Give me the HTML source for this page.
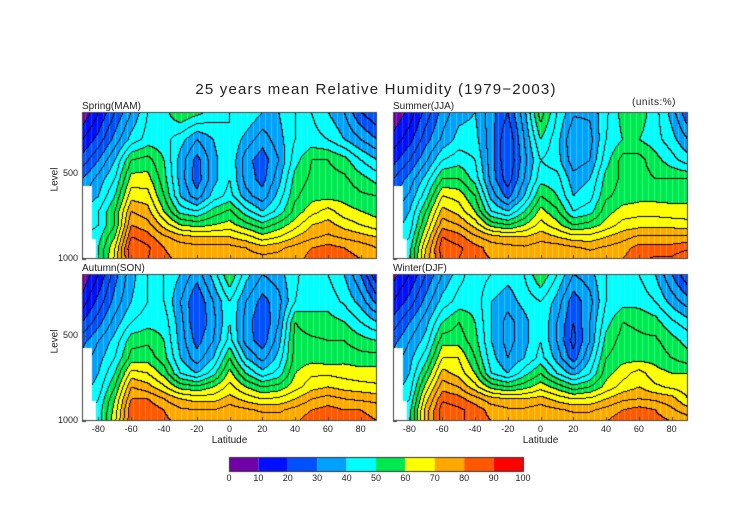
<!DOCTYPE html>
<html><head><meta charset="utf-8">
<style>
body{margin:0;background:#fff;width:752px;height:532px;overflow:hidden;position:relative;font-family:"Liberation Sans",sans-serif;}
.t{position:absolute;white-space:nowrap;color:#222;}
canvas{position:absolute;}
</style></head><body>
<div class="t" style="left:0;width:752px;text-align:center;top:81px;font-size:15px;letter-spacing:1.2px;">25 years mean Relative Humidity (1979−2003)</div>
<div class="t" style="left:632px;top:97px;font-size:10px;letter-spacing:0.5px;">(units:%)</div>
<div class="t" style="left:82px;top:101px;font-size:10px;">Spring(MAM)</div>
<div class="t" style="left:393px;top:101px;font-size:10px;">Summer(JJA)</div>
<div class="t" style="left:82px;top:263px;font-size:10px;">Autumn(SON)</div>
<div class="t" style="left:393px;top:263px;font-size:10px;">Winter(DJF)</div>
<canvas id="cv" width="752" height="532" style="left:0;top:0"></canvas>
<script>
const lats=[-90,-80,-70,-60,-50,-40,-30,-20,-10,0,10,20,30,40,50,60,70,80,90];
const levels=[140,300,420,530,630,720,800,870,935,1000];
const spring=[
[5,15,25,35,45,48,55,52,48,45,45,40,40,45,45,40,35,25,20],
[15,22,32,42,47,47,42,35,40,45,38,32,38,45,47,45,40,35,30],
[22,30,40,55,57,50,38,28,38,45,32,27,35,48,55,55,52,45,40],
[30,37,45,62,62,52,38,27,38,45,33,28,38,52,56,57,56,52,48],
[35,40,50,68,67,55,40,32,42,47,37,32,42,54,58,58,58,56,55],
[40,45,55,75,72,60,48,45,52,56,47,40,47,57,63,67,62,60,58],
[42,45,55,80,77,68,60,58,60,62,57,52,57,63,70,72,68,65,62],
[45,48,60,85,82,76,72,70,70,70,67,62,65,70,74,76,74,72,70],
[45,50,65,90,86,80,78,77,77,77,75,72,74,77,80,82,80,78,75],
[45,50,66,88,85,81,79,78,78,79,78,77,77,78,82,84,82,80,80]];
const summer=[
[5,12,22,32,38,40,32,25,38,58,45,36,36,44,52,53,47,38,25],
[12,18,28,36,42,42,32,20,35,50,42,30,33,45,50,50,47,42,35],
[18,25,34,45,48,45,32,20,33,45,42,32,35,48,57,57,52,47,42],
[25,32,42,55,55,48,33,22,35,48,47,37,40,52,56,57,55,55,55],
[30,36,48,65,63,55,38,28,40,55,50,40,43,54,57,58,58,58,58],
[35,40,55,72,68,60,45,40,50,62,56,45,48,58,62,63,63,62,62],
[38,42,60,78,75,68,58,55,60,67,62,55,57,62,67,68,68,68,67],
[40,45,65,85,82,76,72,70,70,73,70,67,67,70,73,76,76,76,76],
[42,48,70,88,86,82,78,77,76,78,78,76,74,76,78,82,82,82,84],
[42,48,72,86,85,82,80,79,79,80,80,80,79,79,80,84,86,86,90]];
const autumn=[
[5,15,28,38,45,45,40,32,42,55,42,35,38,44,48,45,40,30,15],
[12,22,32,40,45,45,35,25,35,45,35,28,33,45,48,48,44,38,28],
[20,28,37,45,48,48,37,25,33,45,33,25,35,55,52,52,50,45,40],
[28,35,42,53,54,50,38,28,35,47,33,27,38,57,56,55,55,52,50],
[32,38,45,57,58,52,40,32,40,55,40,33,42,57,58,57,58,57,57],
[35,40,50,67,65,58,45,40,48,62,50,42,47,60,64,64,63,62,62],
[38,42,55,75,72,66,58,56,60,67,60,55,57,63,68,70,68,67,66],
[40,45,60,80,80,75,70,68,68,72,68,65,66,70,75,77,75,74,73],
[42,47,62,84,84,80,76,75,75,78,76,74,74,77,80,82,80,80,78],
[42,47,64,84,84,81,79,78,78,80,80,79,78,79,83,85,83,82,80]];
const winter=[
[8,15,25,35,43,48,45,42,45,55,45,35,38,45,47,45,40,30,20],
[15,22,32,42,47,48,40,37,42,45,38,27,33,45,48,48,45,38,32],
[22,30,38,50,55,50,40,33,38,45,35,25,35,48,55,54,52,46,42],
[28,35,42,58,58,52,40,33,38,45,35,23,35,52,57,56,56,52,48],
[32,38,48,65,65,55,42,35,40,47,38,27,40,55,58,58,58,55,52],
[35,40,55,72,68,60,45,40,48,55,45,38,45,58,63,67,62,60,60],
[38,42,62,78,75,67,58,55,58,63,58,52,55,62,67,70,66,64,62],
[40,45,68,84,82,77,72,70,70,72,68,65,66,70,74,75,74,72,65],
[42,48,72,88,86,83,78,76,76,78,76,74,74,77,80,82,80,76,72],
[42,48,72,88,86,83,80,79,79,80,80,79,79,80,83,84,82,80,78]];
const colorBounds=[0,10,20,30,40,50,60,70,80,90,100];
const colors=[[112,0,168],[0,16,255],[0,80,255],[0,160,255],[0,255,255],[0,232,80],[255,255,0],[255,168,0],[255,88,0],[255,0,0]];
const xTicks=[-80,-60,-40,-20,0,20,40,60,80];
const yTicks=[500,1000];

const W=295,H=147,pTop=140,pBot=1000;
const panels=[{d:spring,x:82,y:112,n:'spring'},{d:summer,x:393,y:112,n:'summer'},{d:autumn,x:82,y:274,n:'autumn'},{d:winter,x:393,y:274,n:'winter'}];
const cv=document.getElementById('cv');const ctx=cv.getContext('2d');
function xOf(lat){return (lat+90)/180*W;}
function yOf(p){return (p-pTop)/(pBot-pTop)*H;}
function sample(d,lat,p){
  let fi=(lat-lats[0])/10;fi=Math.max(0,Math.min(lats.length-1.0001,fi));
  let i=Math.floor(fi),fx=fi-i;
  let j=0;while(j<levels.length-2&&p>levels[j+1])j++;
  let fy=(p-levels[j])/(levels[j+1]-levels[j]);fy=Math.max(0,Math.min(1,fy));
  const a=d[j][i],b=d[j][i+1],c=d[j+1][i],e=d[j+1][i+1];
  return (a*(1-fx)+b*fx)*(1-fy)+(c*(1-fx)+e*fx)*fy;
}
for(const P of panels){
  const img=ctx.createImageData(W,H);
  const vals=new Float32Array(W*H);const mask=new Uint8Array(W*H);
  for(let py=0;py<H;py++)for(let px=0;px<W;px++){
    const lat=-90+px/W*180,p=pTop+py/H*(pBot-pTop);
    vals[py*W+px]=sample(P.d,lat,p);
    if((lat<-84&&p>570)||(lat<-81.5&&p>880))mask[py*W+px]=1;
  }
  for(let py=0;py<H;py++)for(let px=0;px<W;px++){
    const k=py*W+px,o=k*4;const v=vals[k];
    let c;
    if(mask[k])c=[255,255,255];
    else{
      let ci=Math.min(9,Math.max(0,Math.floor(v/10)));c=colors[ci];
      const q=Math.floor(v/5);
      let line=false;
      if(px<W-1&&!mask[k+1]&&Math.floor(vals[k+1]/5)!==q)line=true;
      if(py<H-1&&!mask[k+W]&&Math.floor(vals[k+W]/5)!==q)line=true;
      if(line)c=[0,0,0];
      else if(px%6===3)c=[Math.min(255,c[0]+40),Math.min(255,c[1]+40),Math.min(255,c[2]+40)];
    }
    img.data[o]=c[0];img.data[o+1]=c[1];img.data[o+2]=c[2];img.data[o+3]=255;
  }
  ctx.putImageData(img,P.x,P.y);
  ctx.strokeStyle='#444';ctx.lineWidth=1;ctx.strokeRect(P.x+0.5,P.y+0.5,W-1,H-1);
  ctx.beginPath();
  for(const t of xTicks){const x=P.x+Math.round(xOf(t))+0.5;ctx.moveTo(x,P.y+H);ctx.lineTo(x,P.y+H-4);}
  for(const t of yTicks){const y=P.y+Math.round(yOf(t))+0.5;ctx.moveTo(P.x,y);ctx.lineTo(P.x+4,y);}
  ctx.stroke();
}
const body=document.body;
for(const P of panels){
  if(P.x===82){
    for(const t of yTicks){
      const el=document.createElement('div');el.className='t';
      
      
      el.style.cssText='right:'+(752-78)+'px;top:'+(P.y+yOf(t)-6)+'px;font-size:9px;';
      el.textContent=t;body.appendChild(el);
    }
    const yl=document.createElement('div');yl.className='t';
    
    
    yl.style.cssText='left:40px;top:'+(P.y+62)+'px;font-size:10px;transform:rotate(-90deg);width:30px;text-align:center;';
    yl.textContent='Level';body.appendChild(yl);
  }
  if(P.y===274){
    for(const t of xTicks){
      const el=document.createElement('div');el.className='t';
      
      
      el.style.cssText='left:'+(P.x+xOf(t)-15)+'px;width:30px;text-align:center;top:424px;font-size:9px;';
      el.textContent=t;body.appendChild(el);
    }
    const xl=document.createElement('div');xl.className='t';
    
    
    xl.style.cssText='left:'+(P.x+W/2-30)+'px;width:60px;text-align:center;top:435px;font-size:10px;';
    xl.textContent='Latitude';body.appendChild(xl);
  }
}
const cbX=229,cbY=457,cbW=294,cbH=14;
for(let i=0;i<colors.length;i++){
  const c=colors[i];ctx.fillStyle='rgb('+c.join(',')+')';
  const x0=cbX+colorBounds[i]/100*cbW,x1=cbX+colorBounds[i+1]/100*cbW;
  ctx.fillRect(x0,cbY,x1-x0,cbH);
}
ctx.strokeStyle='#333';ctx.strokeRect(cbX+0.5,cbY+0.5,cbW,cbH);
for(const b of colorBounds){
  const el=document.createElement('div');el.className='t';
  
  
  el.style.cssText='left:'+(cbX+b/100*cbW-15)+'px;width:30px;text-align:center;top:473px;font-size:9px;';
  el.textContent=b;body.appendChild(el);
}
</script>
</body></html>
